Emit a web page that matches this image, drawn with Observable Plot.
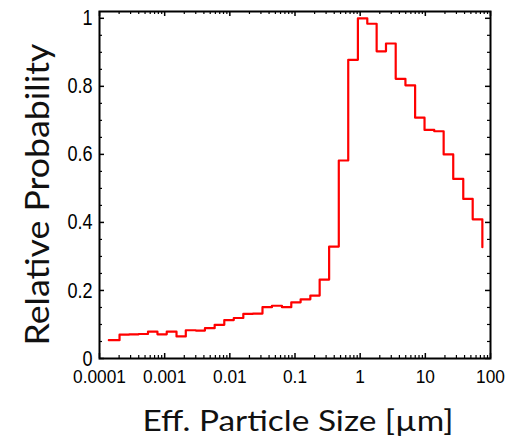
<!DOCTYPE html>
<html>
<head>
<meta charset="utf-8">
<script src="https://cdn.jsdelivr.net/npm/d3@7"></script>
<script src="https://cdn.jsdelivr.net/npm/@observablehq/plot@0.6"></script>
<style>
  html, body { margin: 0; padding: 0; background: white; }
</style>
</head>
<body>
<div id="chart"></div>
<script>
// Bin left edges (µm) and relative probability
const sizes = [1.39e-4, 2.03e-4, 2.85e-4, 3.99e-4, 5.55e-4, 7.75e-4, 1.076e-3, 1.52e-3, 2.11e-3, 3.01e-3,
  4.15e-3, 5.85e-3, 8.22e-3, 0.0115, 0.0161, 0.0226, 0.0317, 0.0443, 0.0631, 0.0877,
  0.122, 0.172, 0.239, 0.334, 0.470, 0.656, 0.923, 1.286, 1.79, 2.49,
  3.51, 4.95, 6.97, 9.72, 13.7, 19.1, 26.8, 38.2, 53.3, 75.0];
const probs = [0.054, 0.070, 0.071, 0.072, 0.079, 0.071, 0.079, 0.065, 0.083, 0.082,
  0.089, 0.099, 0.113, 0.119, 0.131, 0.132, 0.151, 0.155, 0.151, 0.165,
  0.174, 0.185, 0.232, 0.329, 0.582, 0.878, 1.000, 0.984, 0.903, 0.926,
  0.822, 0.803, 0.708, 0.672, 0.668, 0.600, 0.528, 0.469, 0.409, 0.327];

const xTicks = [0.0001, 0.001, 0.01, 0.1, 1, 10, 100];
const xTickLabels = ["0.0001", "0.001", "0.01", "0.1", "1", "10", "100"];
const yTicks = [0, 0.2, 0.4, 0.6, 0.8, 1];
const yTickLabels = ["0", "0.2", "0.4", "0.6", "0.8", "1"];
const xTitle = "Eff. Particle Size [µm]";
const yTitle = "Relative Probability";

const rows = sizes.map((s, i) => ({size: s, p: probs[i]}));
const xLabelMap = new Map(xTicks.map((t, i) => [t, xTickLabels[i]]));
const yLabelMap = new Map(yTicks.map((t, i) => [t, yTickLabels[i]]));

const W = 508, H = 444;
const mL = 99, mR = 18, mT = 11, mB = 86;
const iW = W - mL - mR, iH = H - mT - mB;
const xDomain = [1e-4, 100];
const xMinor = d3.scaleLog().domain(xDomain).ticks().filter(t => !xTicks.some(m => Math.abs(Math.log10(t) - Math.log10(m)) < 1e-9));
const yMinor = d3.ticks(0, 1, 20).filter(t => !yTicks.some(m => Math.abs(t - m) < 1e-9));
const majLen = 5, minLen = 3;
const numFont = "'Liberation Sans', Arial, sans-serif";
const titleFont = "Lato, 'Open Sans', sans-serif";

const chart = Plot.plot({
  width: W, height: H,
  marginLeft: mL, marginRight: mR, marginTop: mT, marginBottom: mB,
  style: {background: "white", color: "black", fontFamily: numFont},
  x: {type: "log", domain: xDomain},
  y: {domain: [0, 1.02]},
  marks: [
    Plot.lineY(rows, {x: "size", y: "p", curve: "step-after", stroke: "#ff0000", strokeWidth: 2.2}),
    // inward ticks on all four sides
    Plot.tickX(xTicks, {x: d => d, insetTop: iH - majLen, stroke: "black", strokeWidth: 1.5}),
    Plot.tickX(xTicks, {x: d => d, insetBottom: iH - majLen, stroke: "black", strokeWidth: 1.5}),
    Plot.tickX(xMinor, {x: d => d, insetTop: iH - minLen, stroke: "black", strokeWidth: 1.2}),
    Plot.tickX(xMinor, {x: d => d, insetBottom: iH - minLen, stroke: "black", strokeWidth: 1.2}),
    Plot.tickY(yTicks, {y: d => d, insetRight: iW - majLen, stroke: "black", strokeWidth: 1.5}),
    Plot.tickY(yTicks, {y: d => d, insetLeft: iW - majLen, stroke: "black", strokeWidth: 1.5}),
    Plot.tickY(yMinor, {y: d => d, insetRight: iW - minLen, stroke: "black", strokeWidth: 1.2}),
    Plot.tickY(yMinor, {y: d => d, insetLeft: iW - minLen, stroke: "black", strokeWidth: 1.2}),
    Plot.frame({stroke: "black", strokeWidth: 2}),
    Plot.axisX(xTicks, {tickSize: 0, tickPadding: 11, fontSize: 19, label: null, tickFormat: d => xLabelMap.get(d)}),
    Plot.axisY(yTicks, {tickSize: 0, tickPadding: 7, fontSize: 22, label: null, tickFormat: d => yLabelMap.get(d)}),
    Plot.text([xTitle], {text: d => d, frameAnchor: "bottom", textAnchor: "middle", dx: 3, dy: 64, lineAnchor: "middle",
      fontSize: 28, fontFamily: titleFont, fill: "#111"}),
    Plot.text([yTitle], {text: d => d, frameAnchor: "left", textAnchor: "middle", rotate: -90, dx: -61, dy: 9.5, lineAnchor: "middle",
      fontSize: 33, fontFamily: titleFont, fill: "#111"})
  ]
});
document.getElementById("chart").appendChild(chart);

// condense / stretch texts to the proportions they have in the reference
const xLabelSet = new Set(xTickLabels), yLabelSet = new Set(yTickLabels);
for (const t of chart.querySelectorAll("text")) {
  const s = t.textContent;
  const fit = (len) => { t.setAttribute("textLength", len); t.setAttribute("lengthAdjust", "spacingAndGlyphs"); };
  if (s === xTitle) fit(311);
  else if (s === yTitle) fit(302);
  else {
    const inX = t.closest('g[aria-label="x-axis tick label"]');
    const inY = t.closest('g[aria-label="y-axis tick label"]');
    const n = t.getComputedTextLength();
    if (inX && xLabelSet.has(s)) fit(n * 0.91);
    else if (inY && yLabelSet.has(s)) fit(n * 0.82);
  }
}
</script>
</body>
</html>
